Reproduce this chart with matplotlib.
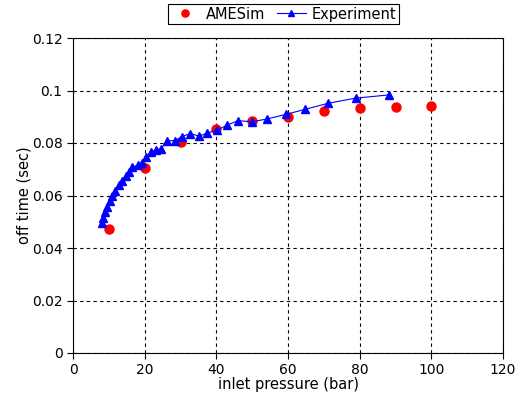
import numpy as np
import matplotlib.pyplot as plt

# AMESim simulation results
sim_p = [10, 20, 30, 40, 50, 60, 70, 80, 90, 100]
sim_t = [0.0472, 0.0706, 0.0802, 0.0852, 0.0885, 0.0900, 0.0922, 0.0932, 0.0938, 0.0942]

# experimental results
exp_p = [8.0, 8.5, 8.9, 9.6, 10.2, 11.0, 11.7, 12.7, 13.6, 14.7, 15.6, 16.4, 18.0, 19.2,
         20.5, 21.7, 23.1, 24.5, 26.3, 28.5, 30.3, 32.7, 35.2, 37.5, 40.2, 43.0, 46.0,
         49.9, 54.0, 59.4, 64.7, 71.1, 78.9, 88.1]
exp_t = [0.0495, 0.0515, 0.0538, 0.0557, 0.0580, 0.0597, 0.0618, 0.0639, 0.0655, 0.0673,
         0.0690, 0.0708, 0.0715, 0.0722, 0.0745, 0.0765, 0.0774, 0.0777, 0.0809, 0.0809,
         0.0824, 0.0836, 0.0826, 0.0838, 0.0849, 0.0868, 0.0885, 0.0881, 0.0891, 0.0909,
         0.0928, 0.0951, 0.0971, 0.0983]

plt.rcParams['font.family'] = 'DejaVu Sans'
fig = plt.figure(figsize=(5.3, 4.03), dpi=100)
ax = fig.add_axes([73/530, 50/403, 430/530, 315/403])

a, = ax.plot(sim_p, sim_t, 'o', color='#ff0000', markersize=6.5, linestyle='none', label='AMESim', zorder=3)
b, = ax.plot(exp_p, exp_t, '-^', color='#0000ff', markersize=6, linewidth=0.8, label='Experiment', zorder=4)
b.set_markeredgecolor('#0000ff')

ax.set_xlim(0, 120)
ax.set_ylim(0, 0.12)
ax.set_xticks([0, 20, 40, 60, 80, 100, 120])
ax.set_yticks([0, 0.02, 0.04, 0.06, 0.08, 0.1, 0.12])
ax.set_yticklabels(['0', '0.02', '0.04', '0.06', '0.08', '0.1', '0.12'])
ax.grid(True, color='black', linestyle=(0, (3, 3)), linewidth=0.8)
ax.tick_params(direction='out', length=4, labelsize=10)
ax.set_xlabel('inlet pressure (bar)', fontsize=10.5, labelpad=0)
ax.set_ylabel('off time (sec)', fontsize=10.5, labelpad=0)
for s in ax.spines.values():
    s.set_color('black')
    s.set_linewidth(0.8)

leg = ax.legend(handles=[a, b], ncol=2, loc='upper center', bbox_to_anchor=(0.49, 1.109),
                borderaxespad=0, fancybox=False, edgecolor='black', fontsize=10.5,
                handlelength=2.0, markerscale=0.8, borderpad=0.2, columnspacing=0.8,
                handletextpad=0.4, framealpha=1)
leg.get_frame().set_linewidth(0.8)

plt.savefig('out.png', dpi=100)
